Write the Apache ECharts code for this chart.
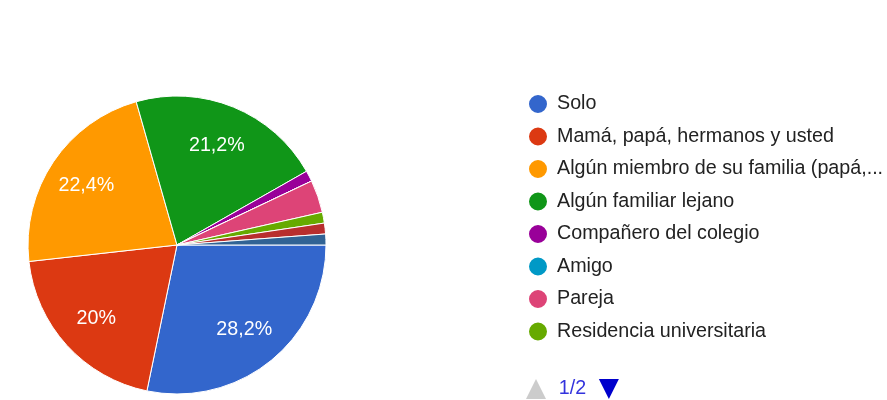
<!DOCTYPE html>
<html>
<head>
<meta charset="utf-8">
<script src="https://cdn.jsdelivr.net/npm/echarts@6/dist/echarts.min.js"></script>
<style>
  html, body { margin: 0; padding: 0; background: #fff; }
  #chart { width: 887px; height: 400px; }
</style>
</head>
<body>
<div id="chart"></div>
<script>
// respuestas por opción (85 en total)
var categories = [
  'Solo',
  'Mamá, papá, hermanos y usted',
  'Algún miembro de su familia (papá, mamá o hermanos)',
  'Algún familiar lejano',
  'Compañero del colegio',
  'Amigo',
  'Pareja',
  'Residencia universitaria',
  'Tíos',
  'Abuelos'
];
var counts = [24, 17, 19, 18, 1, 0, 3, 1, 1, 1];
var colors = ['#3366cc', '#dc3912', '#ff9900', '#109618', '#990099',
              '#0099c6', '#dd4477', '#66aa00', '#b82e2e', '#316395'];
var perPage = 8;

var total = counts.reduce(function (a, b) { return a + b; }, 0);
var font = 'Arial, "Liberation Sans", sans-serif';

var pieData = categories.map(function (name, i) {
  return { name: name, value: counts[i], itemStyle: { color: colors[i] } };
});

var chart = echarts.init(document.getElementById('chart'));
chart.setOption({
  animation: false,
  color: colors,
  legend: [
    {
      // página 1 visible
      orient: 'vertical',
      left: 527,
      top: 93,
      padding: 0,
      icon: 'circle',
      itemWidth: 20,
      itemHeight: 20,
      itemGap: 10.5,
      formatter: function (name) {
        return name.length > 34 ? name.slice(0, 34) + '...' : name;
      },
      textStyle: {
        color: '#222',
        fontSize: 19.7,
        fontFamily: font,
        padding: [0, 0, 0, 4]
      },
      data: categories.slice(0, perPage)
    },
    {
      // leyenda con scroll sin texto: solo aporta el paginador 1/2
      type: 'scroll',
      orient: 'vertical',
      left: 526,
      top: 93,
      height: 306,
      padding: 0,
      icon: 'circle',
      itemWidth: 20,
      itemHeight: 20,
      itemGap: 10.5,
      itemStyle: { opacity: 0 },
      formatter: function () { return ''; },
      textStyle: { fontSize: 19.7, fontFamily: font, color: 'rgba(0,0,0,0)' },
      pageButtonGap: 33,
      pageButtonItemGap: 4,
      pageIconSize: 20,
      pageIconColor: '#0000cc',
      pageIconInactiveColor: '#cccccc',
      pageTextStyle: { color: '#3333dd', fontSize: 19.7, fontFamily: font },
      data: categories
    }
  ],
  series: [
    {
      name: 'pie',
      type: 'pie',
      center: [177, 245],
      radius: 149,
      startAngle: 0,
      clockwise: true,
      avoidLabelOverlap: false,
      itemStyle: { borderColor: '#fff', borderWidth: 1 },
      label: { show: false },
      labelLine: { show: false },
      emphasis: { disabled: true },
      data: pieData
    },
    {
      // capa transparente solo para colocar las etiquetas a ~0.7r
      name: 'labels',
      type: 'pie',
      silent: true,
      center: [176, 246],
      radius: [61, 149],
      startAngle: 0,
      clockwise: true,
      avoidLabelOverlap: false,
      itemStyle: { color: 'rgba(0,0,0,0)', borderWidth: 0 },
      label: {
        show: true,
        position: 'inside',
        color: '#fff',
        fontSize: 19.7,
        fontFamily: font,
        formatter: function (p) {
          var pct = p.value / total * 100;
          if (pct < 5) return '';
          var s = pct.toFixed(1);
          if (s.slice(-2) === '.0') s = s.slice(0, -2);
          return s.replace('.', ',') + '%';
        }
      },
      labelLine: { show: false },
      emphasis: { disabled: true },
      data: categories.map(function (name, i) {
        return { name: name, value: counts[i] };
      })
    }
  ]
});
</script>
</body>
</html>
